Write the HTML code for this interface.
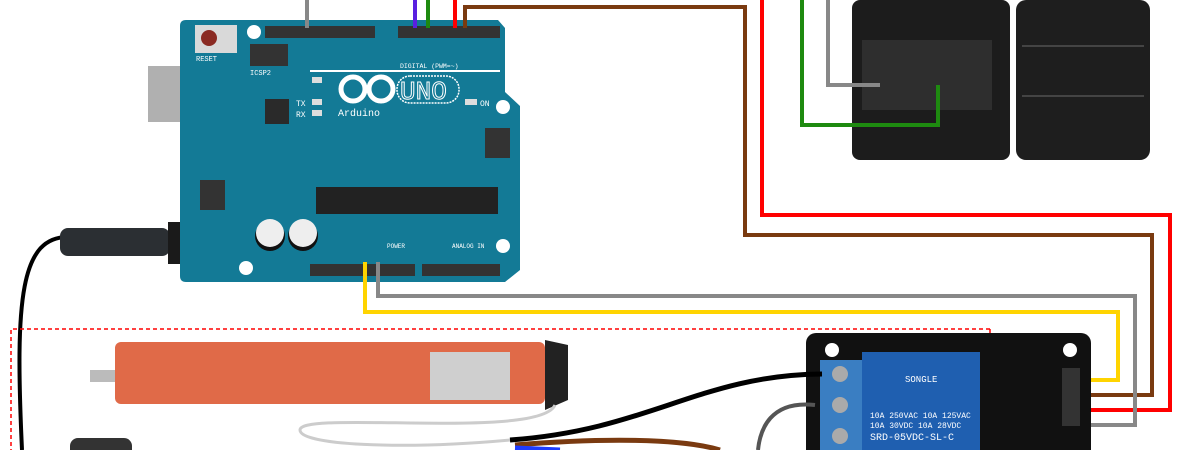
<!DOCTYPE html>
<html><head><meta charset="utf-8"><style>
html,body{margin:0;padding:0;background:#fff;width:1200px;height:450px;overflow:hidden}
text{font-family:"Liberation Mono",monospace}
</style></head><body>
<svg width="1200" height="450" viewBox="0 0 1200 450" xmlns="http://www.w3.org/2000/svg">
<rect width="1200" height="450" fill="#fff"/>
<!-- power cable -->
<path d="M70,237 C20,235 15,300 22,450" stroke="#000" stroke-width="4" fill="none"/>
<rect x="60" y="228" width="110" height="28" rx="8" fill="#2b2f33"/>
<rect x="168" y="222" width="72" height="42" fill="#1a1a1a"/>
<!-- USB -->
<rect x="148" y="66" width="80" height="56" fill="#b0b0b0"/>
<!-- Arduino board -->
<path d="M186,20 H498 L505,28 V92 L520,106 V270 L505,282 H186 Q180,282 180,276 V26 Q180,20 186,20 Z" fill="#137a96"/>
<rect x="195" y="25" width="42" height="28" fill="#d9d9d9"/>
<circle cx="209" cy="38" r="8" fill="#8a2a22"/>
<text x="196" y="61" font-size="7" fill="#fff">RESET</text>
<rect x="250" y="44" width="38" height="22" fill="#333"/>
<text x="250" y="75" font-size="7" fill="#fff">ICSP2</text>
<circle cx="254" cy="32" r="7" fill="#fff"/>
<rect x="265" y="26" width="110" height="12" fill="#333"/>
<rect x="398" y="26" width="102" height="12" fill="#333"/>
<text x="400" y="68" font-size="6.5" fill="#fff">DIGITAL (PWM=~)</text>
<rect x="310" y="70" width="190" height="2" fill="#fff"/>
<text x="313" y="83" font-size="8" fill="#fff">L</text>
<rect x="312" y="77" width="10" height="6" fill="#ddd"/>
<rect x="312" y="99" width="10" height="6" fill="#ddd"/>
<rect x="312" y="110" width="10" height="6" fill="#ddd"/>
<text x="296" y="106" font-size="8" fill="#fff">TX</text>
<text x="296" y="117" font-size="8" fill="#fff">RX</text>
<rect x="265" y="99" width="24" height="25" fill="#2a2a2a"/>
<g stroke="#fff" stroke-width="5" fill="none"><circle cx="353" cy="89" r="12"/><circle cx="381" cy="89" r="12"/></g>
<text x="400" y="99" font-size="26" fill="none" stroke="#fff" stroke-width="1" font-family="Liberation Sans">UNO</text>
<rect x="397" y="76" width="62" height="27" rx="13" fill="none" stroke="#fff" stroke-width="1.5" stroke-dasharray="2,1"/>
<text x="338" y="116" font-size="10" fill="#fff">Arduino</text>
<rect x="465" y="99" width="12" height="6" fill="#ddd"/>
<text x="480" y="106" font-size="8" fill="#fff">ON</text>
<circle cx="503" cy="107" r="7" fill="#fff"/>
<rect x="485" y="128" width="25" height="30" fill="#333"/>
<rect x="200" y="180" width="25" height="30" fill="#333"/>
<rect x="316" y="187" width="182" height="27" fill="#222"/>
<circle cx="270" cy="236" r="15" fill="#111"/><circle cx="270" cy="233" r="14" fill="#eee"/>
<circle cx="303" cy="236" r="15" fill="#111"/><circle cx="303" cy="233" r="14" fill="#eee"/>
<circle cx="246" cy="268" r="7" fill="#fff"/>
<circle cx="503" cy="246" r="7" fill="#fff"/>
<rect x="310" y="264" width="105" height="12" fill="#333"/>
<rect x="422" y="264" width="78" height="12" fill="#333"/>
<text x="387" y="248" font-size="6" fill="#fff">POWER</text>
<text x="452" y="248" font-size="6" fill="#fff">ANALOG IN</text>
<!-- switches -->
<rect x="852" y="0" width="158" height="160" rx="8" fill="#1c1c1c"/>
<rect x="862" y="40" width="130" height="70" fill="#2e2e2e"/>
<rect x="1016" y="0" width="134" height="160" rx="10" fill="#1e1e1e"/>
<rect x="1022" y="45" width="122" height="2" fill="#444"/>
<rect x="1022" y="95" width="122" height="2" fill="#444"/>
<!-- wires -->
<g fill="none" stroke-width="4">
<path d="M307,0 V28" stroke="#888"/>
<path d="M415,0 V28" stroke="#5a1fe0"/>
<path d="M428,0 V28" stroke="#1e8a10"/>
<path d="M455,0 V28" stroke="#f00"/>
<path d="M465,28 V7 H745 V235 H1152 V395 H1080" stroke="#7a3a10"/>
<path d="M762,0 V215 H1170 V410 H1080" stroke="#f00"/>
<path d="M378,262 V296 H1135 V425 H1080" stroke="#888"/>
<path d="M365,262 V312 H1118 V380 H1080" stroke="#ffd400"/>
<path d="M802,0 V125 H938 V85" stroke="#1e8a10"/>
<path d="M828,0 V85 H880" stroke="#888"/>
</g>
<!-- dashed -->
<path d="M990,329 H11 V450" stroke="#f00" stroke-width="1.5" stroke-dasharray="4,3" fill="none"/>
<path d="M990,329 V450" stroke="#f00" stroke-width="1.5" stroke-dasharray="4,3" fill="none"/>
<!-- relay -->
<rect x="806" y="333" width="285" height="130" rx="10" fill="#111"/>
<circle cx="832" cy="350" r="7" fill="#fff"/>
<circle cx="1070" cy="350" r="7" fill="#fff"/>
<rect x="820" y="360" width="42" height="95" fill="#3a7ec2"/>
<circle cx="840" cy="374" r="8" fill="#aaa"/><circle cx="840" cy="405" r="8" fill="#aaa"/><circle cx="840" cy="436" r="8" fill="#aaa"/>
<rect x="862" y="352" width="118" height="98" fill="#1f5fb0"/>
<text x="905" y="382" font-size="9" fill="#fff" font-family="Liberation Sans">SONGLE</text>
<text x="870" y="418" font-size="8" fill="#fff" font-family="Liberation Sans">10A 250VAC 10A 125VAC</text>
<text x="870" y="428" font-size="8" fill="#fff" font-family="Liberation Sans">10A 30VDC 10A 28VDC</text>
<text x="870" y="440" font-size="10" fill="#fff" font-family="Liberation Sans">SRD-05VDC-SL-C</text>
<rect x="1062" y="368" width="18" height="58" fill="#333"/>
<!-- motor -->
<rect x="90" y="370" width="30" height="12" fill="#bbb"/>
<rect x="115" y="342" width="430" height="62" rx="6" fill="#e06a48"/>
<rect x="430" y="352" width="80" height="48" fill="#cfcfcf"/>
<path d="M545,340 L568,345 V400 L545,410 Z" fill="#222"/>
<rect x="70" y="438" width="62" height="20" rx="8" fill="#333"/>
<!-- motor cables -->
<path d="M555,405 C540,440 300,410 300,430 C300,445 400,450 510,440" stroke="#ccc" stroke-width="3" fill="none"/>
<path d="M510,440 C650,430 700,375 822,374" stroke="#000" stroke-width="5" fill="none"/>
<path d="M815,405 C770,400 760,430 758,450" stroke="#555" stroke-width="4" fill="none"/>
<path d="M515,445 C600,438 680,438 720,450" stroke="#7a3a10" stroke-width="5" fill="none"/>
<path d="M515,448 L560,450" stroke="#1e3cff" stroke-width="5" fill="none"/>
</svg>
</body></html>
